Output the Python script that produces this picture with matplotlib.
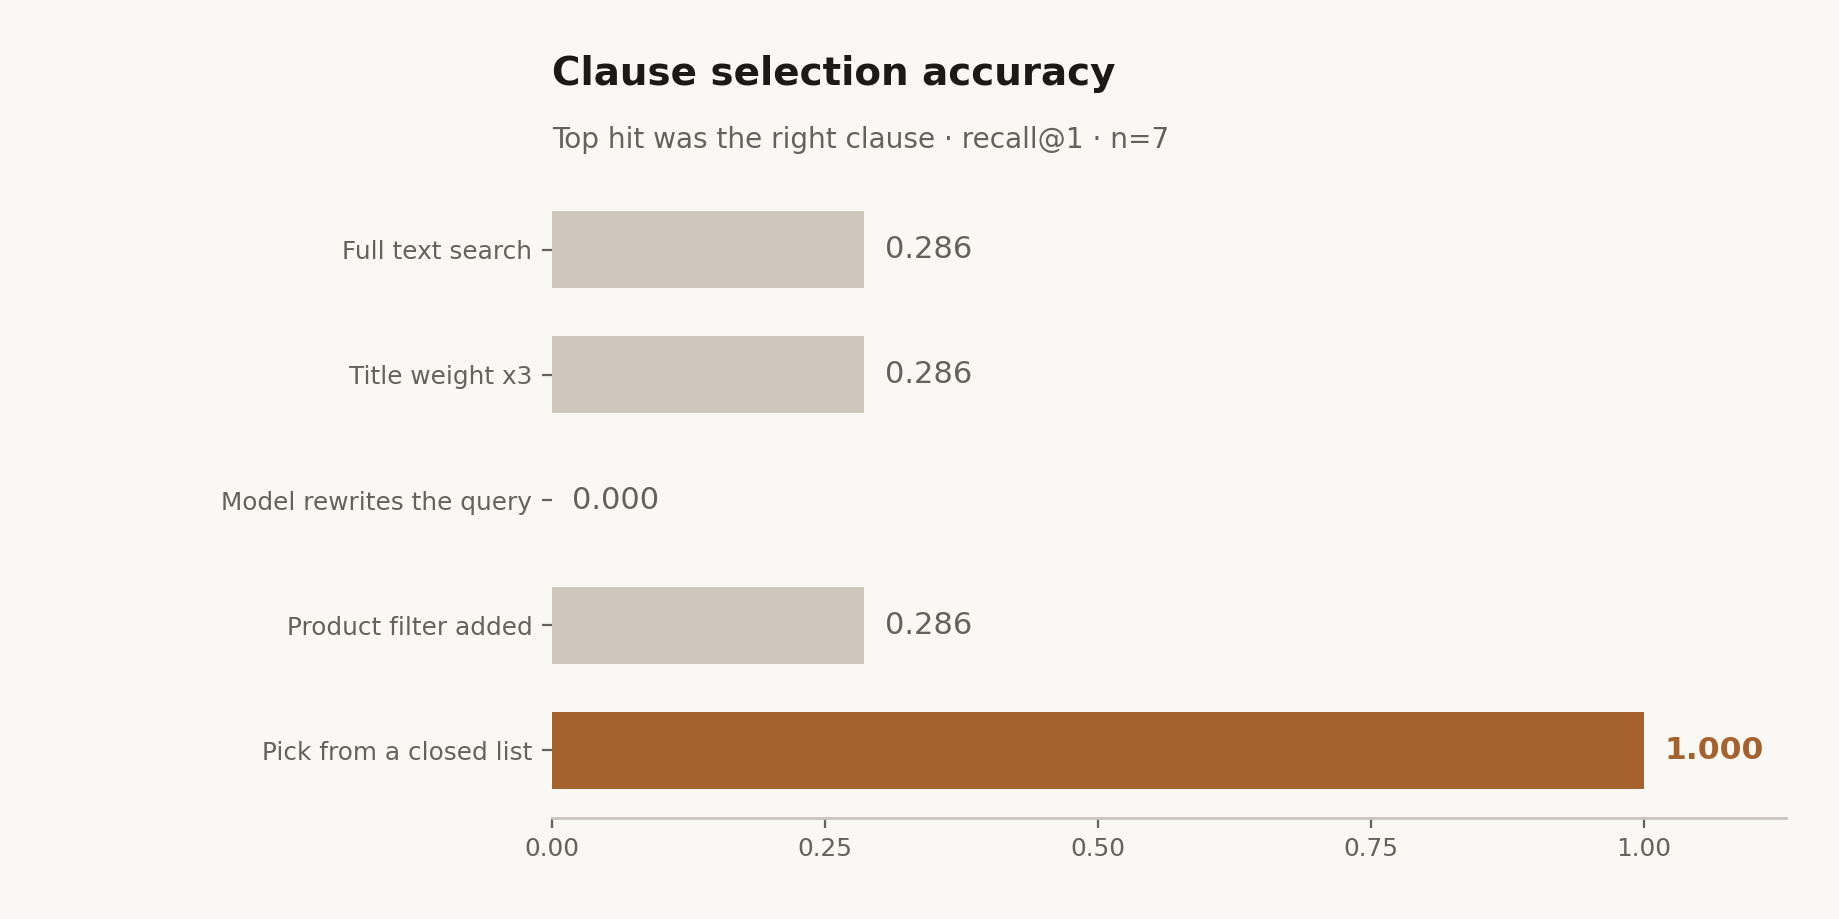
#!/usr/bin/env python3
# -*- coding=utf-8 -*-

import matplotlib
matplotlib.use("Agg")
import matplotlib.pyplot as plt

# data
methods = ["Full text search", "Title weight x3", "Model rewrites the query",
           "Product filter added", "Pick from a closed list"]
recall_at_1 = [0.286, 0.286, 0.000, 0.286, 1.000]
best_idx = 4

TITLE = "Clause selection accuracy"
SUBTITLE = "Top hit was the right clause \u00b7 recall@1 \u00b7 n=7"

BG = "#faf8f4"
GREY_BAR = "#cfc7bb"
ACCENT = "#a5622d"
TEXT = "#65625d"
DARK = "#1c1a17"
SPINE = "#c9c5bd"

plt.rcParams["font.family"] = ["DejaVu Sans"]

fig = plt.figure(figsize=(9.195, 4.595), dpi=200, facecolor=BG)
ax = fig.add_axes([0.30, 0.1102, 0.671, 0.6913])
ax.set_facecolor(BG)

colors = [ACCENT if i == best_idx else GREY_BAR for i in range(len(methods))]
ypos = list(range(len(methods)))
ax.barh(ypos, recall_at_1, height=0.615, color=colors)
ax.invert_yaxis()

# value labels right of each bar
for i, v in enumerate(recall_at_1):
    if i == best_idx:
        ax.text(v + 0.019, i, f"{v:.3f}", va="center", ha="left",
                fontsize=11.3, fontweight="bold", color=ACCENT)
    else:
        ax.text(v + 0.019, i, f"{v:.3f}", va="center", ha="left",
                fontsize=11, color=TEXT)

ax.set_yticks(ypos)
ax.set_yticklabels(methods)
ax.set_xlim(0, 1.13)
ax.set_xticks([0.0, 0.25, 0.5, 0.75, 1.0])
ax.set_xticklabels(["0.00", "0.25", "0.50", "0.75", "1.00"])
ax.tick_params(axis="both", labelsize=8.9, colors=TEXT, labelcolor=TEXT)

for side in ["top", "right", "left"]:
    ax.spines[side].set_visible(False)
ax.spines["bottom"].set_color(SPINE)
ax.spines["bottom"].set_linewidth(1.0)

fig.text(0.30, 0.9075, TITLE, fontsize=14, fontweight="bold", color=DARK,
         ha="left", va="baseline")
fig.text(0.30, 0.8386, SUBTITLE, fontsize=10.1, color=TEXT,
         ha="left", va="baseline")

fig.savefig("out.png", dpi=200, facecolor=BG)
